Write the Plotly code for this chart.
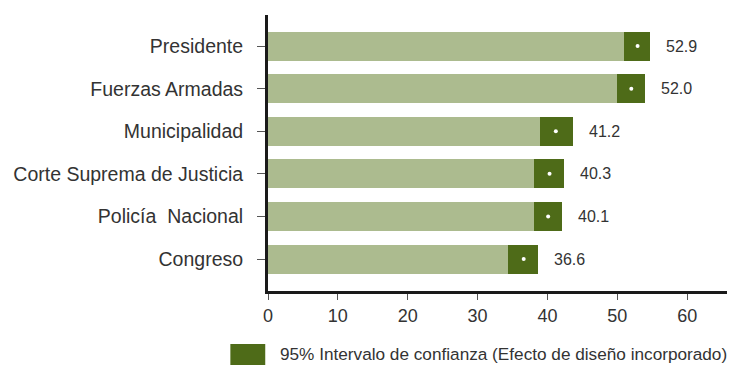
import plotly.graph_objects as go

categories = ["Presidente", "Fuerzas Armadas", "Municipalidad",
              "Corte Suprema de Justicia", "Policía  Nacional", "Congreso"]
means = [52.9, 52.0, 41.2, 40.3, 40.1, 36.6]
ci_low = [51.0, 50.0, 38.9, 38.1, 38.1, 34.4]
ci_high = [54.7, 54.0, 43.6, 42.4, 42.1, 38.6]
x_ticks = [0, 10, 20, 30, 40, 50, 60]
legend_label = "95% Intervalo de confianza (Efecto de diseño incorporado)"

LIGHT = "#acbb8f"
DARK = "#4e6b18"
TEXT = "#333333"
FONT = "Liberation Sans, Arial, sans-serif"

fig = go.Figure()
fig.add_trace(go.Bar(
    y=categories, x=ci_low, orientation="h",
    marker=dict(color=LIGHT, line=dict(width=0)),
    width=0.68, showlegend=False, hoverinfo="skip"))
fig.add_trace(go.Bar(
    y=categories, x=[h - l for h, l in zip(ci_high, ci_low)], base=ci_low,
    orientation="h", marker=dict(color=DARK, line=dict(width=0)),
    width=0.68, showlegend=False, hoverinfo="skip"))
fig.add_trace(go.Scatter(
    y=categories, x=means, mode="markers",
    marker=dict(color="white", size=4), showlegend=False, hoverinfo="skip"))

for c, h, m in zip(categories, ci_high, means):
    fig.add_annotation(x=h, y=c, text=f"{m:.1f}", showarrow=False,
                       xanchor="left", xshift=14,
                       font=dict(family=FONT, size=16, color=TEXT))

# legend (manual swatch + label)
fig.add_shape(type="rect", xref="paper", yref="paper",
              x0=-0.082, x1=-0.006, y0=-0.268, y1=-0.192,
              fillcolor=DARK, line=dict(width=0))
fig.add_annotation(xref="paper", yref="paper", x=0.0245, y=-0.23,
                   text=legend_label, showarrow=False, xanchor="left",
                   yanchor="middle", borderpad=0,
                   font=dict(family=FONT, size=17.2, color=TEXT))

fig.update_layout(
    width=728, height=357,
    margin=dict(l=260, r=9, t=7, b=74, autoexpand=False),
    plot_bgcolor="white", paper_bgcolor="white",
    barmode="overlay", bargap=0,
    font=dict(family=FONT, color=TEXT),
    xaxis=dict(range=[0, 65.7], tickvals=x_ticks, showgrid=False,
               zeroline=False, showline=True, linecolor="#1a1a1a",
               linewidth=3, ticks="outside", ticklen=6, tickwidth=1,
               automargin=False,
               tickcolor="#555555", tickfont=dict(size=18, color=TEXT)),
    yaxis=dict(range=[5.75, -0.73], type="category",
               categoryarray=categories, categoryorder="array",
               showgrid=False, zeroline=False, showline=True,
               automargin=False,
               linecolor="#1a1a1a", linewidth=3, ticks="outside", ticklen=8,
               tickwidth=1, tickcolor="#555555", ticklabelstandoff=10,
               tickfont=dict(size=19.5, color=TEXT)),
)

fig.write_html("out.html")
